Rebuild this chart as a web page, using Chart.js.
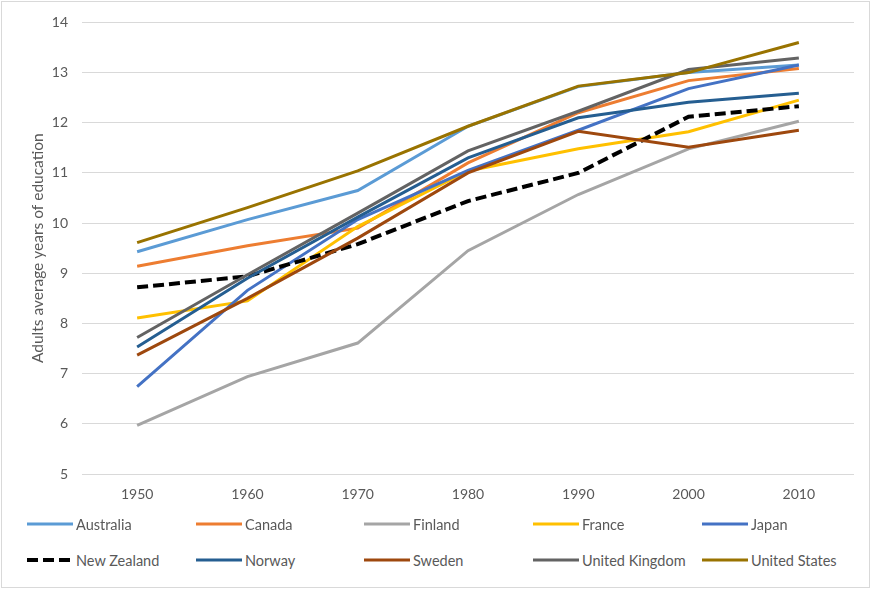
<!DOCTYPE html>
<html lang="en">
<head>
    <meta charset="UTF-8">
    <title>Adults average years of education</title>
    <style>
        body {
            margin: 0;
            background: #fff;
            font-family: Lato, "Open Sans", sans-serif;
        }
        .frame {
            position: absolute;
            left: 1px; top: 1px;
            width: 869px; height: 587px;
            box-sizing: border-box;
            border: 1px solid #d9d9d9;
        }
        .chart-box {
            position: absolute;
            left: 0; top: 0;
            width: 871px; height: 510px;
        }
        #legend {
            position: absolute;
            left: 0; top: 506px;
            width: 871px;
        }
        .item {
            position: absolute;
            height: 36px;
            display: flex;
            align-items: center;
            font-size: 14.5px;
            color: #595959;
        }
        .item svg { margin-right: 3px; }
    </style>
</head>
<body>
    <div class="frame"></div>
    <div class="chart-box">
        <canvas id="eduChart"></canvas>
    </div>
    <div id="legend"></div>

    <script src="https://cdn.jsdelivr.net/npm/chart.js"></script>
    <script>
        const years = ['1950', '1960', '1970', '1980', '1990', '2000', '2010'];
        const yTicks = [5, 6, 7, 8, 9, 10, 11, 12, 13, 14];

        const australia   = [9.43, 10.07, 10.65, 11.93, 12.72, 13.0, 13.15];
        const canada      = [9.14, 9.55, 9.9, 11.2, 12.2, 12.84, 13.08];
        const finland     = [5.97, 6.94, 7.61, 9.45, 10.57, 11.48, 12.03];
        const france      = [8.11, 8.45, 9.93, 11.04, 11.48, 11.82, 12.45];
        const japan       = [6.74, 8.66, 10.07, 11.05, 11.85, 12.68, 13.15];
        const newZealand  = [8.72, 8.94, 9.58, 10.44, 11.0, 12.12, 12.33];
        const norway      = [7.53, 8.9, 10.12, 11.3, 12.1, 12.41, 12.59];
        const sweden      = [7.37, 8.5, 9.7, 11.0, 11.83, 11.51, 11.85];
        const unitedKingdom = [7.72, 8.97, 10.2, 11.44, 12.23, 13.06, 13.29];
        const unitedStates  = [9.61, 10.31, 11.04, 11.93, 12.73, 13.0, 13.6];

        const series = [
            { label: 'Australia', data: australia, color: '#5B9BD5' },
            { label: 'Canada', data: canada, color: '#ED7D31' },
            { label: 'Finland', data: finland, color: '#A5A5A5' },
            { label: 'France', data: france, color: '#FFC000' },
            { label: 'Japan', data: japan, color: '#4472C4' },
            { label: 'New Zealand', data: newZealand, color: '#000000', dash: true },
            { label: 'Norway', data: norway, color: '#255E91' },
            { label: 'Sweden', data: sweden, color: '#9E480E' },
            { label: 'United Kingdom', data: unitedKingdom, color: '#636363' },
            { label: 'United States', data: unitedStates, color: '#997300' }
        ];

        const textColor = '#595959';
        const fontFamily = 'Lato, "Open Sans", sans-serif';

        const ctx = document.getElementById('eduChart').getContext('2d');
        new Chart(ctx, {
            type: 'line',
            data: {
                labels: years,
                datasets: series.map((s, i) => ({
                    label: s.label,
                    data: s.data,
                    borderColor: s.color,
                    backgroundColor: s.color,
                    borderWidth: s.dash ? 4 : 3,
                    borderDash: s.dash ? [11, 5] : [],
                    pointRadius: 0,
                    tension: 0,
                    fill: false,
                    order: series.length - i   // later series on top, like Excel
                }))
            },
            options: {
                responsive: true,
                maintainAspectRatio: false,
                animation: false,
                layout: { padding: { top: 21, right: 17, left: 0, bottom: 0 } },
                plugins: {
                    legend: { display: false },
                    tooltip: { enabled: false }
                },
                scales: {
                    x: {
                        offset: true,
                        grid: { display: false, drawTicks: false },
                        border: { display: false },
                        ticks: {
                            padding: 12,
                            color: textColor,
                            font: { family: fontFamily, size: 14 },
                            maxRotation: 0
                        },
                        afterFit: (scale) => { scale.height = 36; }
                    },
                    y: {
                        min: 5,
                        max: 14,
                        afterBuildTicks: (scale) => {
                            scale.ticks = yTicks.map(v => ({ value: v }));
                        },
                        grid: { color: '#d9d9d9', lineWidth: 1, drawTicks: false },
                        border: { display: false },
                        ticks: {
                            padding: 14,
                            color: textColor,
                            font: { family: fontFamily, size: 14 }
                        },
                        title: {
                            display: true,
                            text: 'Adults average years of education',
                            color: textColor,
                            font: { family: fontFamily, size: 15.5 },
                            padding: { top: 29, bottom: 0 }
                        },
                        afterFit: (scale) => { scale.width = 82; }
                    }
                }
            }
        });

        // legend laid out in fixed columns like the Excel original
        const legend = document.getElementById('legend');
        const colX = [27, 196, 364, 533, 702];
        series.forEach((s, i) => {
            const item = document.createElement('div');
            item.className = 'item';
            item.style.left = colX[i % 5] + 'px';
            item.style.top = (Math.floor(i / 5) * 36) + 'px';
            const dash = s.dash ? 'stroke-dasharray="11 5"' : '';
            const w = s.dash ? 4 : 3;
            item.innerHTML =
                '<svg width="46" height="6"><line x1="0" y1="3" x2="46" y2="3" stroke="' + s.color +
                '" stroke-width="' + w + '" ' + dash + '/></svg><span>' + s.label + '</span>';
            legend.appendChild(item);
        });
    </script>
</body>
</html>
